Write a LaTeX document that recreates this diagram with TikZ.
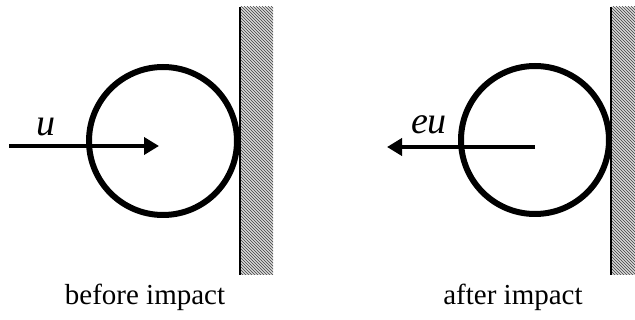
\documentclass[tikz,border=0pt]{standalone}
\usepackage{fontspec}
\setmainfont{Liberation Serif}
\usetikzlibrary{positioning,arrows.meta,patterns}

\begin{document}
\begin{tikzpicture}[x=1pt,y=-1pt,
  ball/.style={draw,circle,line width=6pt,inner sep=0pt,minimum size=148pt},
  vel/.style={line width=4.5pt,-{Triangle[length=15pt,width=17pt]}},
  wallside/.style={fill=gray!30,postaction={pattern=north west lines,pattern color=black!75}},
  caption/.style={anchor=base,font=\fontsize{29}{29}\selectfont},
  lbl/.style={anchor=base,font=\fontsize{38}{38}\selectfont\itshape}]
  \useasboundingbox (0,0) rectangle (635,320);
  % before impact
  \path[wallside] (240,7) rectangle (273,275);
  \draw[line width=2pt] (240,7) -- (240,275);
  \node[ball] (ballA) at (163,141) {};
  \coordinate (uTail) at (9,146);
  \coordinate (uTip) at (159,146);
  \draw[vel] (uTail) -- (uTip);
  \node[lbl] (u) at (46,136) {u};
  \node[caption] (before) at (145,305) {before impact};
  % after impact
  \path[wallside] (611,7) rectangle (635,275);
  \draw[line width=2pt] (611,7) -- (611,275);
  \node[ball] (ballB) at (535,140) {};
  \coordinate (euTail) at (535,147);
  \coordinate (euTip) at (387,147);
  \draw[vel] (euTail) -- (euTip);
  \node[lbl] (eu) at (429,134) {eu};
  \node[caption] (after) at (513,305) {after impact};
\end{tikzpicture}
\end{document}
